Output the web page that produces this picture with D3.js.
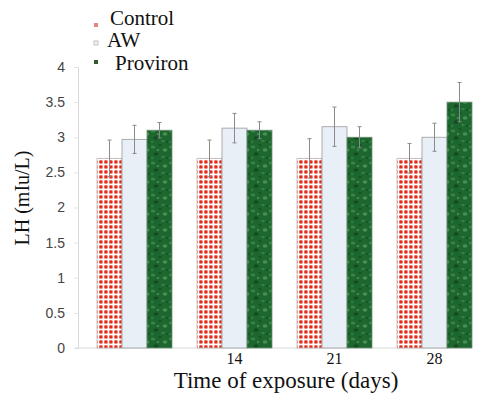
<!DOCTYPE html>
<html>
<head>
<meta charset="utf-8">
<script src="https://cdn.jsdelivr.net/npm/d3@7"></script>
<style>
  body { margin: 0; background: #fff; }
  svg { display: block; }
</style>
</head>
<body>
<svg width="479" height="395"></svg>
<script>
const days = ["7", "14", "21", "28"];
const dayLabels = ["", "14", "21", "28"];
const series = ["Control", "AW", "Proviron"];
const control = [2.7, 2.7, 2.7, 2.7];
const aw = [2.97, 3.13, 3.15, 3.0];
const proviron = [3.1, 3.1, 3.0, 3.5];
const controlErr = [0.26, 0.26, 0.28, 0.21];
const awErr = [0.2, 0.21, 0.28, 0.2];
const provironErr = [0.11, 0.12, 0.15, 0.28];
const yTicks = [0, 0.5, 1, 1.5, 2, 2.5, 3, 3.5, 4];

const serif = "'Liberation Serif', 'Times New Roman', serif";
const svg = d3.select("svg");

// patterns
const defs = svg.append("defs");

const chk = defs.append("pattern")
  .attr("id", "pat-control")
  .attr("patternUnits", "userSpaceOnUse")
  .attr("width", 5).attr("height", 5)
  .attr("x", 97).attr("y", 0);
chk.append("rect").attr("width", 5).attr("height", 5).attr("fill", "#fff");
chk.append("rect").attr("x", 0).attr("y", 0).attr("width", 5).attr("height", 5).attr("fill", "#f6c2b8");
chk.append("rect").attr("x", 0).attr("y", 3.8).attr("width", 5).attr("height", 1.2).attr("fill", "#fff");
chk.append("rect").attr("x", 3.8).attr("y", 0).attr("width", 1.2).attr("height", 5).attr("fill", "#fff");
chk.append("circle").attr("cx", 1.9).attr("cy", 1.9).attr("r", 1.7).attr("fill", "#e42a1a");

const grn = defs.append("pattern")
  .attr("id", "pat-prov")
  .attr("patternUnits", "userSpaceOnUse")
  .attr("width", 18).attr("height", 16);
grn.append("rect").attr("width", 18).attr("height", 16).attr("fill", "#1d6630");
const spots = [[2, 3, 2.2, "#3f8f4a"], [9, 1, 1.6, "#12501f"], [14, 6, 2.4, "#4c9a55"], [5, 10, 2.6, "#10461c"],
  [12, 13, 1.8, "#3a8544"], [16, 14, 1.3, "#12501f"], [7, 6, 1.2, "#5aa762"], [1, 14, 1.5, "#3a8544"]];
spots.forEach(s => grn.append("ellipse").attr("cx", s[0]).attr("cy", s[1]).attr("rx", s[2]).attr("ry", s[2] * 0.7).attr("fill", s[3]).attr("opacity", 0.8));

const fills = ["url(#pat-control)", "#e9eff6", "url(#pat-prov)"];
const legendFills = ["#e8847a", "#f4f6f9", "#2e5b34"];
const strokes = ["#b9b9b9", "#9a9a9a", "#6f8f74"];

const y = d3.scaleLinear().domain([0, 4]).range([348, 67]);
const x0 = d3.scaleBand().domain(days).range([84.5, 484.5]).paddingInner(0.25).paddingOuter(0.125);
const x1 = d3.scaleBand().domain(series).range([0, x0.bandwidth()]);

// y axis
const yAxis = svg.append("g")
  .attr("transform", "translate(78,0)")
  .call(d3.axisLeft(y).tickValues(yTicks).tickSize(4).tickPadding(9).tickFormat(d3.format("")));
yAxis.select(".domain").attr("stroke", "#d9d9d9");
yAxis.selectAll(".tick line").attr("stroke", "#e4e4e4");
yAxis.selectAll("text").attr("font-family", "'Liberation Sans', Arial, sans-serif")
  .attr("font-size", 14).attr("fill", "#444");

// baseline
svg.append("line")
  .attr("x1", 75).attr("x2", 472)
  .attr("y1", y(0)).attr("y2", y(0))
  .attr("stroke", "#d9d9d9");

const rows = days.map((d, i) => ({
  day: d,
  vals: [
    { s: "Control", v: control[i], e: controlErr[i], k: 0 },
    { s: "AW", v: aw[i], e: awErr[i], k: 1 },
    { s: "Proviron", v: proviron[i], e: provironErr[i], k: 2 }
  ]
}));

const groups = svg.append("g").selectAll("g")
  .data(rows).enter().append("g")
  .attr("transform", d => "translate(" + x0(d.day) + ",0)");

groups.selectAll("rect")
  .data(d => d.vals).enter().append("rect")
  .attr("x", d => x1(d.s))
  .attr("y", d => y(d.v))
  .attr("width", x1.bandwidth())
  .attr("height", d => y(0) - y(d.v))
  .attr("fill", d => fills[d.k])
  .attr("stroke", d => strokes[d.k])
  .attr("stroke-width", 0.8);

// error bars
const eb = groups.selectAll("g.err")
  .data(d => d.vals).enter().append("g")
  .attr("class", "err")
  .attr("stroke", "#8a8a8a")
  .attr("stroke-width", 1);
eb.append("line")
  .attr("x1", d => x1(d.s) + x1.bandwidth() / 2)
  .attr("x2", d => x1(d.s) + x1.bandwidth() / 2)
  .attr("y1", d => y(d.v + d.e))
  .attr("y2", d => y(d.v - d.e));
eb.append("line")
  .attr("x1", d => x1(d.s) + x1.bandwidth() / 2 - 2)
  .attr("x2", d => x1(d.s) + x1.bandwidth() / 2 + 2)
  .attr("y1", d => y(d.v + d.e))
  .attr("y2", d => y(d.v + d.e));
eb.append("line")
  .attr("x1", d => x1(d.s) + x1.bandwidth() / 2 - 2)
  .attr("x2", d => x1(d.s) + x1.bandwidth() / 2 + 2)
  .attr("y1", d => y(d.v - d.e))
  .attr("y2", d => y(d.v - d.e));

// x labels
svg.append("g").selectAll("text")
  .data(days).enter().append("text")
  .attr("x", (d, i) => x0(d) + x0.bandwidth() / 2)
  .attr("y", 364)
  .attr("text-anchor", "middle")
  .attr("font-family", serif)
  .attr("font-size", 16)
  .attr("fill", "#111")
  .text((d, i) => dayLabels[i]);

svg.append("text")
  .attr("x", 286).attr("y", 388)
  .attr("text-anchor", "middle")
  .attr("font-family", serif)
  .attr("font-size", 23)
  .attr("fill", "#111")
  .text("Time of exposure (days)");

svg.append("text")
  .attr("transform", "translate(29,198) rotate(-90)")
  .attr("text-anchor", "middle")
  .attr("font-family", serif)
  .attr("font-size", 20)
  .attr("fill", "#111")
  .text("LH (mIu/L)");

// legend
const legendY = [25, 43, 62];
const legendBase = [25, 47, 70];
const legendTx = [110, 107, 115];
const legend = svg.append("g").selectAll("g")
  .data(series).enter().append("g");
legend.append("rect")
  .attr("x", 94).attr("y", (d, i) => legendY[i] - 2)
  .attr("width", 4).attr("height", 4)
  .attr("fill", (d, i) => legendFills[i])
  .attr("stroke", (d, i) => i === 1 ? "#999" : "none")
  .attr("stroke-width", 0.6);
legend.append("text")
  .attr("x", (d, i) => legendTx[i])
  .attr("y", (d, i) => legendBase[i])
  .attr("font-family", serif)
  .attr("font-size", 21)
  .attr("fill", "#111")
  .text(d => d);
</script>
</body>
</html>
